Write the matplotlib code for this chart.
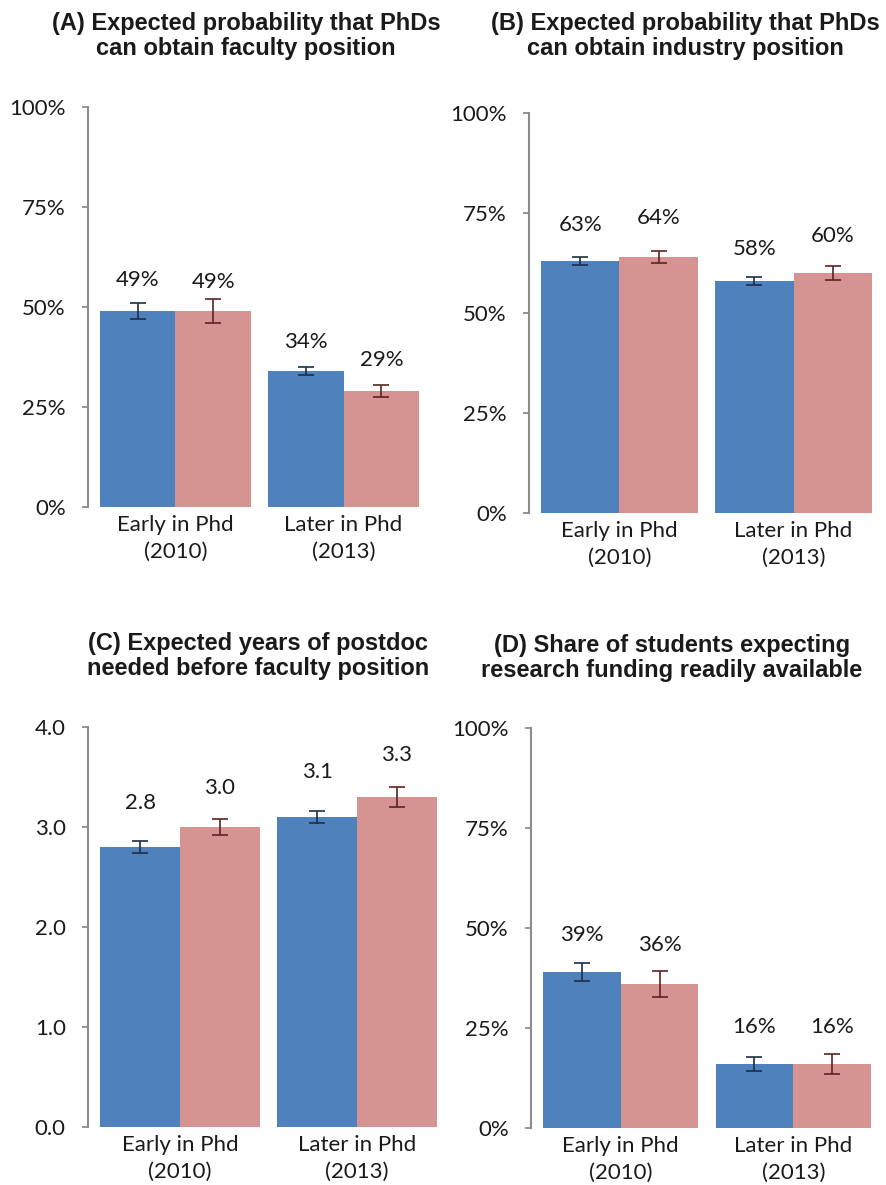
import matplotlib
matplotlib.use("Agg")
import matplotlib.pyplot as plt
from matplotlib.ticker import FuncFormatter

# ---- data -------------------------------------------------------------
groups = ["Early in Phd\n(2010)", "Later in Phd\n(2013)"]

titles = [
    "(A) Expected probability that PhDs\ncan obtain faculty position",
    "(B) Expected probability that PhDs\ncan obtain industry position",
    "(C) Expected years of postdoc\nneeded before faculty position",
    "(D) Share of students expecting\nresearch funding readily available",
]

# panel A: faculty position probability (series 1 = blue, series 2 = pink)
a_blue = [0.49, 0.34]
a_pink = [0.49, 0.29]
a_blue_err = [0.019, 0.011]
a_pink_err = [0.030, 0.015]

# panel B: industry position probability
b_blue = [0.63, 0.58]
b_pink = [0.64, 0.60]
b_blue_err = [0.009, 0.011]
b_pink_err = [0.015, 0.017]

# panel C: years of postdoc
c_blue = [2.8, 3.1]
c_pink = [3.0, 3.3]
c_blue_err = [0.06, 0.06]
c_pink_err = [0.08, 0.10]

# panel D: share expecting funding readily available
d_blue = [0.39, 0.16]
d_pink = [0.36, 0.16]
d_blue_err = [0.022, 0.0175]
d_pink_err = [0.0325, 0.026]

# ---- style ------------------------------------------------------------
BLUE = "#4F81BD"
PINK = "#D59391"
BLUE_ERR = "#1C2E45"
PINK_ERR = "#5C2323"
AXIS_GREY = "#8C8C8C"
TEXT = "#1A1A1A"
BODY_FONT = ["Lato", "DejaVu Sans"]
TITLE_FONT = ["Liberation Sans", "DejaVu Sans"]
BODY_SIZE = 16
TITLE_SIZE = 17

W, H = 887, 1185
DPI = 100
BAR_W = 0.45
XLIM = (-0.52, 1.52)

# axes rectangles in pixels: (left, top-of-plot, width, height)
rects_px = [
    (88, 107, 343, 400),
    (529, 113, 355, 400),
    (88, 727, 361, 400),
    (531, 728, 352, 400),
]
# label distance above the error-bar cap, pixels (blue1, pink1, blue2, pink2)
label_gap_px = [
    [23, 17, 25, 25],
    [32, 33, 28, 30],
    [38, 31, 39, 32],
    [28, 26, 30, 27],
]
title_pos = [(246, 36), (685, 36), (258, 656), (672, 658)]

panels = [
    (a_blue, a_pink, a_blue_err, a_pink_err, "pct", (0, 1.0), [0, 0.25, 0.5, 0.75, 1.0]),
    (b_blue, b_pink, b_blue_err, b_pink_err, "pct", (0, 1.0), [0, 0.25, 0.5, 0.75, 1.0]),
    (c_blue, c_pink, c_blue_err, c_pink_err, "num", (0, 4.0), [0, 1, 2, 3, 4]),
    (d_blue, d_pink, d_blue_err, d_pink_err, "pct", (0, 1.0), [0, 0.25, 0.5, 0.75, 1.0]),
]

fig = plt.figure(figsize=(W / DPI, H / DPI), dpi=DPI)
fig.patch.set_facecolor("white")


def fmt_value(v, kind):
    return f"{v * 100:.0f}%" if kind == "pct" else f"{v:.1f}"


for i, (blue, pink, berr, perr, kind, ylim, yticks) in enumerate(panels):
    lx, ty, wpx, hpx = rects_px[i]
    ax = fig.add_axes([lx / W, 1 - (ty + hpx) / H, wpx / W, hpx / H])
    xs = list(range(len(groups)))
    xb = [x - BAR_W / 2 for x in xs]
    xp = [x + BAR_W / 2 for x in xs]

    ax.bar(xb, blue, width=BAR_W, color=BLUE, zorder=2)
    ax.bar(xp, pink, width=BAR_W, color=PINK, zorder=2)
    ax.errorbar(xb, blue, yerr=berr, fmt="none", ecolor=BLUE_ERR,
                elinewidth=1.2, capsize=5.5, capthick=1.2, zorder=3)
    ax.errorbar(xp, pink, yerr=perr, fmt="none", ecolor=PINK_ERR,
                elinewidth=1.2, capsize=5.5, capthick=1.2, zorder=3)

    # value labels above each error bar
    vals = [blue[0], pink[0], blue[1], pink[1]]
    errs = [berr[0], perr[0], berr[1], perr[1]]
    xpos = [xb[0], xp[0], xb[1], xp[1]]
    for j in range(4):
        ax.annotate(fmt_value(vals[j], kind), xy=(xpos[j], vals[j] + errs[j]),
                    xytext=(0, label_gap_px[i][j] * 72 / DPI),
                    textcoords="offset points", ha="center", va="center",
                    fontsize=BODY_SIZE, color=TEXT, family=BODY_FONT)

    ax.set_xlim(*XLIM)
    ax.set_ylim(*ylim)
    ax.set_yticks(yticks)
    if kind == "pct":
        ax.yaxis.set_major_formatter(FuncFormatter(lambda v, _: f"{v * 100:.0f}%"))
    else:
        ax.yaxis.set_major_formatter(FuncFormatter(lambda v, _: f"{v:.1f}"))
    ax.set_xticks(xs)
    ax.set_xticklabels(groups, family=BODY_FONT, fontsize=BODY_SIZE, color=TEXT,
                       linespacing=1.4)
    ax.tick_params(axis="x", length=0, pad=6)
    ax.tick_params(axis="y", direction="out", length=4, width=1.3,
                   color=AXIS_GREY, pad=12, labelsize=BODY_SIZE, labelcolor=TEXT)
    for lab in ax.get_yticklabels():
        lab.set_family(BODY_FONT)

    for side in ("top", "right", "bottom"):
        ax.spines[side].set_visible(False)
    ax.spines["left"].set_color(AXIS_GREY)
    ax.spines["left"].set_linewidth(1.5)
    ax.set_facecolor("white")

    tx, tyy = title_pos[i]
    fig.text(tx / W, 1 - tyy / H, titles[i], ha="center", va="center",
             fontsize=TITLE_SIZE, fontweight="bold", family=TITLE_FONT, color=TEXT,
             linespacing=1.15)

fig.savefig("out.png", dpi=DPI, facecolor="white")
